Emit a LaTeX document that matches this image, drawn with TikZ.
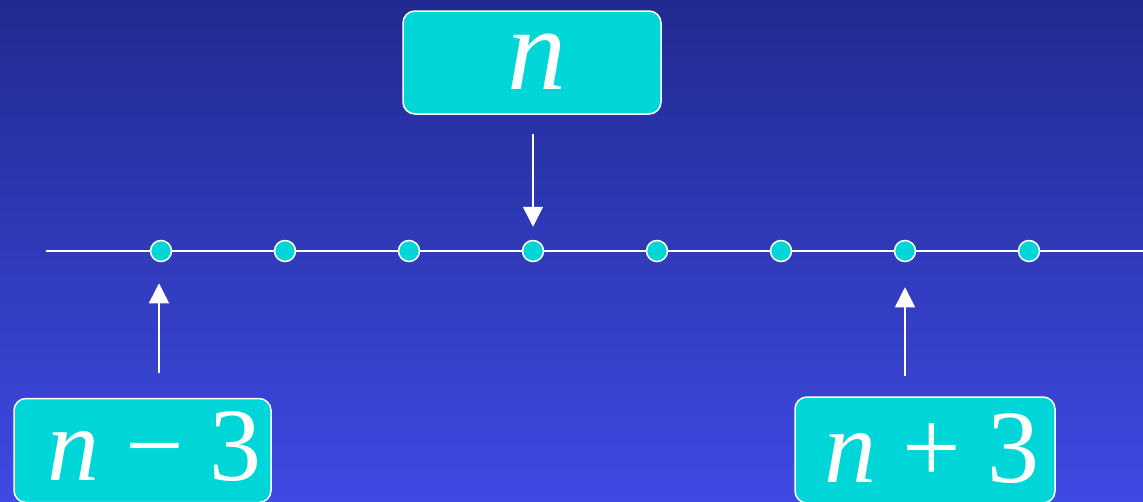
\documentclass[tikz,border=0pt]{standalone}
\usepackage{fontspec}
\setmainfont{Liberation Serif}
\usetikzlibrary{arrows.meta}
\definecolor{bgtop}{HTML}{222A90}
\definecolor{bgbot}{HTML}{3E4AE3}
\definecolor{cyanfill}{HTML}{00D6D8}
\tikzset{
  numbox/.style={draw=white, line width=1.5pt, fill=cyanfill, rounded corners=12pt,
    text=white, inner sep=0pt},
  dot/.style={circle, draw=white, line width=1.5pt, fill=cyanfill, minimum size=21pt, inner sep=0pt},
  pointer/.style={draw=white, line width=1.5pt, -{Triangle[width=20pt,length=20pt]}},
  axis/.style={draw=white, line width=1.5pt}
}
\begin{document}
\begin{tikzpicture}[x=1pt,y=-1pt]
\shade[top color=bgtop, bottom color=bgbot] (0,0) rectangle (1143,501);
\useasboundingbox (0,0) rectangle (1143,501);
\coordinate (a0) at (46,251);
\coordinate (a1) at (1143,251);
\draw[axis] (a0) -- (a1);
\foreach \i/\x in {1/161,2/285,3/409,4/533,5/657,6/781,7/905,8/1029}{
  \node[dot] (d\i) at (\x,251) {};
}
\node[numbox, font=\fontsize{118}{118}\selectfont, minimum width=258pt, minimum height=103pt, text height=65pt, text depth=12pt] (top) at (532,62.5) {\hspace*{10pt}\textit{n}};
\node[numbox, font=\fontsize{104}{104}\selectfont, minimum width=257pt, minimum height=104pt, text height=70pt, text depth=11pt] (nm) at (142.5,450.5) {\hspace*{24pt}\textit{n} − 3};
\node[numbox, font=\fontsize{104}{104}\selectfont, minimum width=260pt, minimum height=106pt, text height=74pt, text depth=10pt] (np) at (925,450) {\hspace*{14pt}\textit{n} + 3};
\draw[pointer, shorten <=19pt, shorten >=13pt] (top.south -| d4) -- (d4.north);
\draw[pointer, shorten <=25pt, shorten >=21pt] ([xshift=-2pt]nm.north -| d1) -- ([xshift=-2pt]d1.south);
\draw[pointer, shorten <=20pt, shorten >=25pt] (np.north -| d7) -- (d7.south);
\end{tikzpicture}
\end{document}
